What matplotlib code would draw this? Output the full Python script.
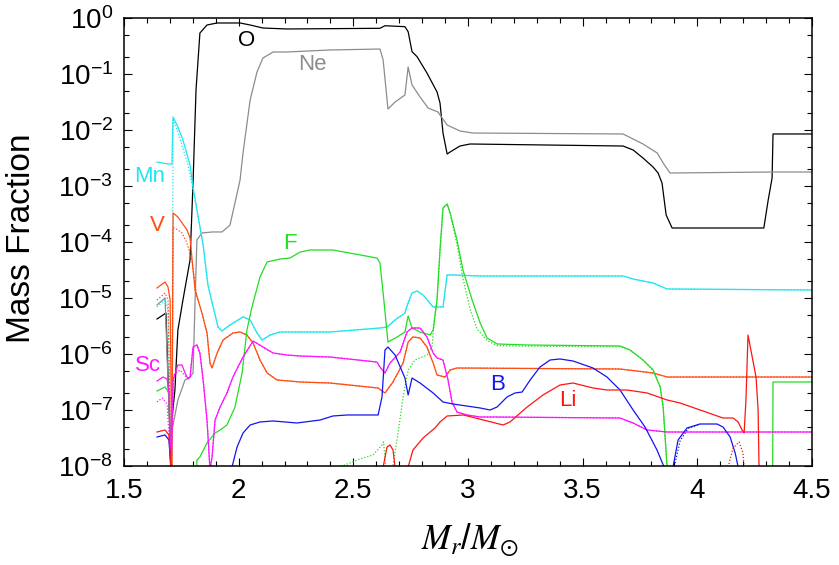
import numpy as np
import matplotlib
matplotlib.use("Agg")
import matplotlib.pyplot as plt
from matplotlib.ticker import LogLocator, MultipleLocator, FuncFormatter, LogFormatterSciNotation

plt.rcParams['font.family'] = ['Liberation Sans', 'DejaVu Sans']
plt.rcParams['mathtext.fontset'] = 'stix'
plt.rcParams['mathtext.default'] = 'regular'
plt.rcParams['axes.unicode_minus'] = False

# x = M_r / M_sun, values are log10 of mass fraction
o_x = [1.644, 1.683, 1.701, 1.722, 1.735, 1.757, 1.788, 1.801, 1.814, 1.831, 1.862, 1.906, 2.006, 2.05, 2.106,
       2.211, 2.616, 2.638, 2.725, 2.739, 2.756, 2.778, 2.821, 2.865, 2.878, 2.891, 2.909, 2.922, 2.965, 3.009,
       3.676, 3.72, 3.763, 3.807, 3.829, 3.846, 3.864, 3.89, 4.29, 4.309, 4.326, 4.33, 4.5]
o_log = [-5.375, -5.268, -7.482, -6.643, -5.571, -5.036, -4.321, -2.946, -1.286, -0.268, -0.125, -0.089, -0.089,
         -0.125, -0.179, -0.196, -0.184, -0.138, -0.155, -0.245, -0.602, -0.691, -0.982, -1.321, -1.518, -2.054,
         -2.429, -2.393, -2.286, -2.25, -2.286, -2.357, -2.5, -2.661, -2.768, -2.946, -3.518, -3.75, -3.75, -3.25,
         -2.857, -2.071, -2.071]

ne_x = [1.644, 1.679, 1.701, 1.735, 1.766, 1.788, 1.801, 1.81, 1.818, 1.84, 1.884, 1.927, 1.962, 1.984, 2.006,
        2.019, 2.05, 2.08, 2.106, 2.15, 2.211, 2.398, 2.616, 2.63, 2.651, 2.682, 2.725, 2.739, 2.756, 2.791,
        2.826, 2.869, 2.909, 2.965, 3.022, 3.676, 3.72, 3.763, 3.825, 3.851, 3.881, 4.33, 4.5]
ne_log = [-5.125, -5.0, -7.536, -6.821, -6.464, -6.411, -6.339, -5.036, -3.964, -3.839, -3.821, -3.821, -3.7,
          -3.3, -2.893, -2.411, -1.464, -0.964, -0.714, -0.607, -0.607, -0.571, -0.554, -0.75, -1.625, -1.5,
          -1.375, -0.875, -1.196, -1.411, -1.607, -1.679, -1.911, -2.018, -2.054, -2.071, -2.161, -2.25, -2.411,
          -2.589, -2.768, -2.75, -2.75]

mn_x = [1.644, 1.692, 1.709, 1.714, 1.735, 1.757, 1.788, 1.801, 1.845, 1.866, 1.91, 1.927, 1.962, 2.019, 2.05,
        2.08, 2.102, 2.137, 2.18, 2.398, 2.616, 2.647, 2.682, 2.725, 2.734, 2.756, 2.778, 2.804, 2.848, 2.891,
        2.909, 2.935, 3.053, 3.676, 3.72, 3.807, 3.868, 4.5]
mn_log = [-2.571, -2.607, -2.607, -1.768, -1.946, -2.179, -2.625, -3.018, -4.054, -4.768, -5.518, -5.589, -5.482,
          -5.339, -5.393, -5.625, -5.75, -5.661, -5.607, -5.607, -5.536, -5.518, -5.393, -5.268, -5.143, -4.911,
          -4.875, -4.946, -5.161, -5.161, -4.589, -4.589, -4.607, -4.607, -4.661, -4.732, -4.839, -4.857]
mn_dot_x = [1.644, 1.679, 1.692, 1.705, 1.709, 1.714, 1.735, 1.779, 1.801]
mn_dot_log = [-5.161, -5.036, -5.214, -8.1, -8.1, -1.821, -2.036, -2.625, -3.071]

v_x = [1.644, 1.679, 1.692, 1.701, 1.709, 1.714, 1.735, 1.775, 1.788, 1.797, 1.81, 1.84, 1.862, 1.875, 1.884,
       1.906, 1.932, 1.975, 2.006, 2.036, 2.063, 2.093, 2.124, 2.167, 2.268, 2.398, 2.608, 2.638, 2.673, 2.717,
       2.739, 2.76, 2.791, 2.821, 2.848, 2.865, 2.90, 2.922, 2.952, 3.663, 3.807, 3.868, 4.5]
v_log = [-4.821, -4.714, -4.804, -5.036, -8.07, -3.482, -3.554, -3.786, -3.929, -4.321, -4.857, -5.268, -5.625,
         -6.161, -6.25, -5.982, -5.75, -5.625, -5.607, -5.661, -5.804, -6.107, -6.339, -6.464, -6.5, -6.518,
         -6.607, -6.696, -6.5, -6.161, -5.786, -5.696, -5.714, -5.875, -6.161, -6.375, -6.411, -6.286, -6.25,
         -6.268, -6.339, -6.411, -6.411]
v_dot_x = [1.644, 1.679, 1.692, 1.705, 1.709, 1.714, 1.722, 1.753, 1.775, 1.797, 1.818]
v_dot_log = [-5.036, -4.911, -5.036, -8.07, -8.07, -3.75, -3.75, -3.839, -4.018, -4.357, -4.982]

f_x = [1.644, 1.679, 1.696, 1.705, 1.72, 1.80, 1.818, 1.831, 1.862, 1.897, 1.919, 1.949, 1.984, 2.015, 2.036,
       2.058, 2.093, 2.124, 2.18, 2.224, 2.268, 2.311, 2.411, 2.603, 2.616, 2.63, 2.651, 2.691, 2.725, 2.739,
       2.756, 2.791, 2.835, 2.848, 2.865, 2.878, 2.891, 2.909, 2.922, 2.952, 2.978, 3.018, 3.053, 3.083, 3.127,
       3.258, 3.663, 3.707, 3.763, 3.807, 3.838, 3.851, 3.868, 3.875, 4.325, 4.33, 4.5]
f_log = [-6.661, -6.589, -6.696, -8.07, -12, -12, -7.893, -7.839, -7.589, -7.411, -7.357, -7.268, -6.946, -6.339,
         -5.571, -5.161, -4.625, -4.357, -4.304, -4.286, -4.179, -4.143, -4.143, -4.286, -4.375, -4.911, -5.786,
         -5.696, -5.607, -5.321, -5.536, -5.607, -5.661, -5.571, -5.036, -4.143, -3.393, -3.321, -3.482, -3.964,
         -4.5, -5.036, -5.446, -5.714, -5.821, -5.839, -5.857, -5.929, -6.107, -6.286, -6.589, -6.946, -8.018,
         -12, -12, -6.5, -6.5]
f_dot_x = [2.42, 2.529, 2.586, 2.625, 2.632, 2.645, 2.665, 2.695, 2.717, 2.739, 2.769, 2.821, 2.843, 2.856, 2.865,
           2.878, 2.891, 2.909, 2.922, 2.952, 2.978, 3.009, 3.039, 3.083, 3.127, 3.258, 3.663, 3.707, 3.763, 3.807,
           3.838, 3.851, 3.868, 3.875]
f_dot_log = [-8.05, -7.875, -7.804, -7.625, -7.57, -8.2, -8.2, -7.411, -6.768, -6.286, -6.107, -6.018, -5.875,
             -5.268, -5.036, -4.143, -3.393, -3.321, -3.482, -4.05, -4.65, -5.2, -5.55, -5.76, -5.85, -5.86, -5.87,
             -5.93, -6.107, -6.286, -6.589, -6.946, -8.018, -12]

sc_x = [1.644, 1.67, 1.688, 1.696, 1.705, 1.714, 1.735, 1.753, 1.766, 1.779, 1.788, 1.801, 1.818, 1.831, 1.845,
        1.862, 1.875, 1.884, 1.897, 1.919, 1.949, 1.975, 2.019, 2.063, 2.106, 2.15, 2.211, 2.268, 2.398, 2.603,
        2.616, 2.638, 2.66, 2.704, 2.734, 2.756, 2.791, 2.821, 2.848, 2.865, 2.891, 2.913, 2.93, 2.952, 2.996,
        3.053, 3.109, 3.663, 3.72, 3.781, 3.868, 4.5]
sc_log = [-6.482, -6.411, -6.446, -6.696, -8.07, -6.464, -6.196, -6.196, -6.339, -6.446, -6.411, -5.875, -5.839,
          -5.982, -6.464, -7.179, -8.07, -7.839, -7.179, -6.946, -6.696, -6.411, -6.054, -5.768, -5.875, -5.982,
          -6.018, -6.036, -6.054, -6.143, -6.232, -6.339, -6.161, -5.964, -5.607, -5.536, -5.536, -5.696, -5.982,
          -6.071, -6.107, -6.464, -6.857, -7.036, -7.089, -7.125, -7.125, -7.143, -7.232, -7.357, -7.393, -7.393]
sc_dot_x = [1.644, 1.666, 1.688, 1.705, 1.718, 1.744, 1.775, 1.788]
sc_dot_log = [-6.857, -6.786, -6.893, -8.07, -6.375, -6.286, -6.429, -6.429]

b_x = [1.644, 1.679, 1.696, 1.705, 1.71, 1.965, 1.971, 1.993, 2.019, 2.05, 2.093, 2.15, 2.254, 2.355, 2.411,
       2.473, 2.608, 2.625, 2.638, 2.651, 2.682, 2.725, 2.739, 2.756, 2.791, 2.848, 2.891, 2.935, 3.053, 3.096,
       3.127, 3.17, 3.205, 3.236, 3.271, 3.314, 3.358, 3.401, 3.458, 3.545, 3.606, 3.663, 3.72, 3.772, 3.824,
       3.855, 3.86, 3.89, 3.894, 3.916, 3.955, 4.012, 4.086, 4.112, 4.143, 4.165, 4.178, 4.19]
b_log = [-7.482, -7.446, -7.536, -8.07, -12, -12, -8.018, -7.661, -7.411, -7.268, -7.214, -7.196, -7.232, -7.179,
         -7.107, -7.089, -7.089, -6.768, -5.929, -5.875, -6.018, -6.429, -6.732, -6.429, -6.518, -6.696, -6.857,
         -6.893, -6.964, -7.0, -6.946, -6.768, -6.696, -6.679, -6.464, -6.232, -6.107, -6.089, -6.125, -6.25,
         -6.411, -6.643, -7.0, -7.304, -7.714, -8.018, -12, -12, -8.018, -7.536, -7.321, -7.25, -7.25, -7.304,
         -7.482, -7.768, -8.018, -12]
b_dot_x = [3.86, 3.899, 3.925, 3.96, 4.012]
b_dot_log = [-12, -8.018, -7.55, -7.33, -7.25]

li_x = [1.644, 1.679, 1.696, 1.705, 1.71, 2.62, 2.63, 2.647, 2.66, 2.673, 2.682, 2.69, 2.73, 2.739, 2.76, 2.804,
        2.856, 2.878, 2.909, 2.98, 3.153, 3.183, 3.258, 3.327, 3.401, 3.458, 3.545, 3.606, 3.694, 3.781, 3.868,
        3.925, 4.012, 4.112, 4.156, 4.178, 4.195, 4.204, 4.212, 4.221, 4.256, 4.265, 4.269, 4.275]
li_log = [-7.393, -7.357, -7.446, -8.07, -12, -12, -8.018, -7.661, -7.625, -7.714, -8.018, -12, -12, -8.018,
          -7.714, -7.5, -7.321, -7.214, -7.107, -7.089, -7.268, -7.214, -6.946, -6.732, -6.554, -6.518, -6.607,
          -6.643, -6.643, -6.696, -6.821, -6.875, -7.0, -7.143, -7.143, -7.214, -7.357, -7.411, -6.821, -5.661,
          -6.411, -7.0, -8.018, -12]
li_dot_x = [4.134, 4.156, 4.182, 4.199, 4.204]
li_dot_log = [-8.018, -7.679, -7.571, -7.768, -8.018]

# name, solid, dotted, colour, label position (x, mass fraction)
species = [
    ('O', (o_x, o_log), None, 'black', (2.036, 0.40)),
    ('Ne', (ne_x, ne_log), None, '#8c8c8c', (2.32, 0.145)),
    ('Mn', (mn_x, mn_log), (mn_dot_x + mn_x[8:], mn_dot_log + mn_log[8:]), '#1ee6f0', (1.613, 1.45e-3)),
    ('V', (v_x, v_log), (v_dot_x + v_x[11:], v_dot_log + v_log[11:]), '#ff4d14', (1.644, 2.0e-4)),
    ('F', (f_x, f_log), (f_dot_x, f_dot_log), '#22dd22', (2.224, 9.5e-5)),
    ('Sc', (sc_x, sc_log), (sc_dot_x + sc_x[11:], sc_dot_log + sc_log[11:]), '#ff14ff', (1.605, 6.3e-7)),
    ('B', (b_x, b_log), (b_dot_x, b_dot_log), '#1414f0', (3.131, 2.9e-7)),
    ('Li', (li_x, li_log), (li_dot_x, li_dot_log), '#ff1414', (3.436, 1.5e-7)),
]

fig = plt.figure(figsize=(8.39, 5.65), dpi=100)
ax = fig.add_axes([124 / 839, 1 - 466 / 565, 688 / 839, 448 / 565])

for name, solid, dotted, color, pos in species:
    if dotted is not None:
        ax.plot(dotted[0], 10 ** np.array(dotted[1]), color=color, lw=0.9, ls=(0, (1, 1.5)))
    ax.plot(solid[0], 10 ** np.array(solid[1]), color=color, lw=0.9)
    ax.text(pos[0], pos[1], name, color=color, fontsize=16, ha='center', va='center')

ax.set_yscale('log')
ax.set_xlim(1.5, 4.5)
ax.set_ylim(1e-8, 1)

ax.xaxis.set_major_locator(MultipleLocator(0.5))
ax.xaxis.set_minor_locator(MultipleLocator(0.1))
ax.xaxis.set_major_formatter(FuncFormatter(lambda v, p: '%g' % v))
ax.yaxis.set_major_locator(LogLocator(base=10, numticks=20))
ax.yaxis.set_minor_locator(LogLocator(base=10, subs=(2, 5), numticks=20))
ax.yaxis.set_major_formatter(LogFormatterSciNotation())
ax.yaxis.set_minor_formatter(FuncFormatter(lambda v, p: ''))

ax.tick_params(which='both', direction='in', top=True, right=True, width=0.8, labelsize=20)
ax.tick_params(which='major', length=6)
ax.tick_params(which='minor', length=3.5)
ax.tick_params(axis='x', pad=9)
ax.tick_params(axis='y', pad=8)
for s in ax.spines.values():
    s.set_linewidth(1.1)

fig.text(22 / 839, 1 - 238 / 565, 'Mass Fraction', rotation=90, fontsize=24, ha='center', va='center')
fig.text(470 / 839, 1 - 540 / 565, r'$\mathit{M}_\mathit{r}/\mathit{M}_{\odot}$', fontsize=25,
         ha='center', va='center')

fig.savefig('out.png', dpi=100)
